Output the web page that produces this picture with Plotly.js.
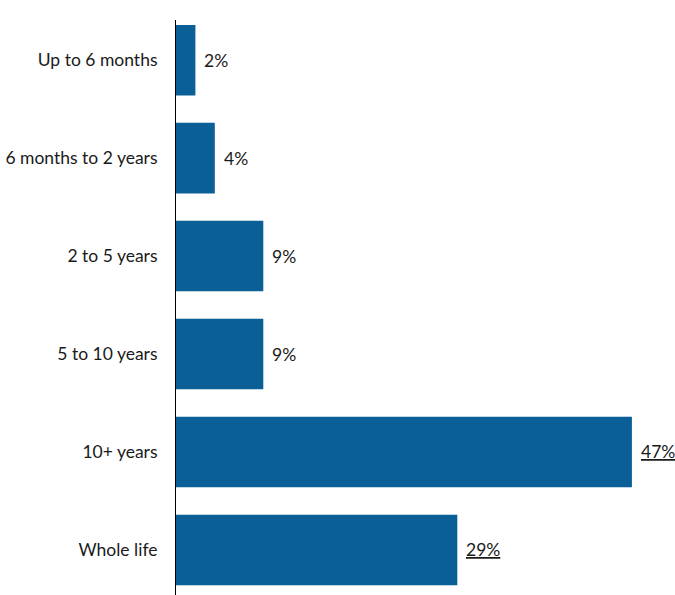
<!DOCTYPE html>
<html>
<head>
<meta charset="utf-8">
<script src="https://cdn.plot.ly/plotly-3.0.1.min.js"></script>
<style>html,body{margin:0;padding:0;background:#fff;}#chart{width:675px;height:595px;}</style>
</head>
<body>
<div id="chart"></div>
<script>
const categories = ["Up to 6 months", "6 months to 2 years", "2 to 5 years", "5 to 10 years", "10+ years", "Whole life"];
const values = [2, 4, 9, 9, 47, 29];
const valueLabels = ["2%", "4%", "9%", "9%", "<u>47%</u>", "<u>29%</u>"];

const barColor = "#0b5f97";
const fontFam = "Lato, 'Open Sans', sans-serif";

const trace = {
  type: "bar",
  orientation: "h",
  y: categories,
  x: values,
  marker: {color: barColor},
  width: 0.72,
  hoverinfo: "skip"
};

const annotations = categories.map((c, i) => ({
  x: values[i],
  y: c,
  xref: "x",
  yref: "y",
  text: valueLabels[i],
  showarrow: false,
  xanchor: "left",
  yanchor: "middle",
  xshift: 7,
  font: {family: fontFam, size: 17.5, color: "#1a1a1a"}
}));

const layout = {
  width: 675,
  height: 595,
  margin: {l: 176, r: 14, t: 20, b: 0},
  paper_bgcolor: "#fff",
  plot_bgcolor: "#fff",
  showlegend: false,
  xaxis: {range: [0, 50], visible: false, fixedrange: true},
  yaxis: {
    type: "category",
    range: [5.46, -0.41],
    showline: true,
    linecolor: "#000",
    linewidth: 1,
    showgrid: false,
    zeroline: false,
    ticks: "",
    ticklabelstandoff: 14,
    tickfont: {family: fontFam, size: 17.5, color: "#1a1a1a"}
  },
  annotations: annotations
};

Plotly.newPlot("chart", [trace], layout, {displayModeBar: false, staticPlot: true});
</script>
</body>
</html>
